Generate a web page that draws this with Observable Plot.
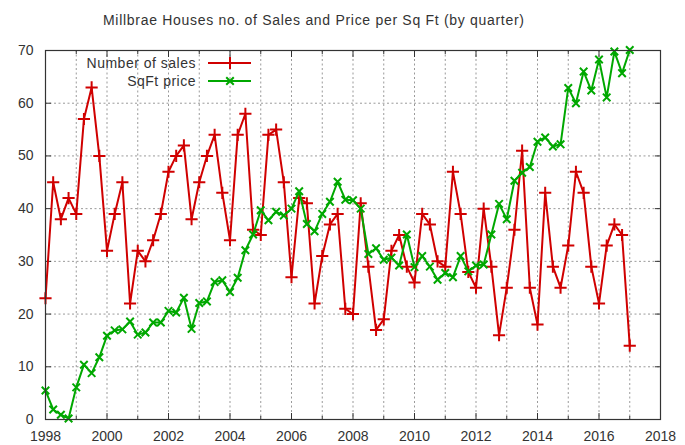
<!DOCTYPE html>
<html>
<head>
<meta charset="utf-8">
<script src="https://cdn.jsdelivr.net/npm/d3@7"></script>
<script src="https://cdn.jsdelivr.net/npm/@observablehq/plot@0.6"></script>
<style>
  html, body { margin: 0; padding: 0; background: #fff; }
</style>
</head>
<body>
<div id="chart"></div>
<script>
// ---- Data (quarterly, starting 1998 Q1) ----
const startYear = 1998;
const salesCount = [
  23, 45, 38, 42,
  39, 57, 63, 50,
  32, 39, 45, 22,
  32, 30, 34, 39,
  47, 50, 52, 38,
  45, 50, 54, 43,
  34, 54, 58, 36,
  35, 54, 55, 45,
  27, 42, 41, 22,
  31, 37, 39, 21,
  20, 41, 29, 17,
  19, 32, 35, 29,
  26, 39, 37, 30,
  29, 47, 39, 28,
  25, 40, 29, 16,
  25, 36, 51, 25,
  18, 43, 29, 25,
  33, 47, 43, 29,
  22, 33, 37, 35,
  14
];
const sqftPrice = [
  5.5, 1.9, 0.9, 0.2,
  6.1, 10.4, 8.8, 11.8,
  15.9, 16.9, 17.1, 18.6,
  16.1, 16.5, 18.4, 18.4,
  20.6, 20.3, 23.1, 17.2,
  22.1, 22.4, 26.1, 26.4,
  24.2, 26.9, 32.1, 35.1,
  39.7, 37.8, 39.4, 38.7,
  40.0, 43.3, 37.1, 35.7,
  39.0, 41.3, 45.1, 41.7,
  41.6, 40.0, 31.4, 32.5,
  30.3, 30.7, 29.2, 35.1,
  28.9, 31.0, 29.0, 26.5,
  27.8, 27.0, 31.0, 28.1,
  29.2, 29.4, 35.1, 40.9,
  38.0, 45.3, 46.8, 47.9,
  52.7, 53.5, 51.8, 52.2,
  62.9, 60.0, 66.0, 62.4,
  68.3, 61.1, 69.8, 65.7,
  70.1
];
const seriesNames = ["Number of sales", "SqFt price"];
const seriesColors = ["#d00000", "#00a800"];
const seriesSymbols = ["plus", "times"];
const xMajorTicks = [1998, 2000, 2002, 2004, 2006, 2008, 2010, 2012, 2014, 2016, 2018];
const xMinorTicks = [1999, 2001, 2003, 2005, 2007, 2009, 2011, 2013, 2015, 2017];
const xGrid = [1999, 2000, 2001, 2002, 2003, 2004, 2005, 2006, 2007, 2008, 2009, 2010, 2011, 2012, 2013, 2014, 2015, 2016, 2017];
const yTicks = [0, 10, 20, 30, 40, 50, 60, 70];
const yGrid = [10, 20, 30, 40, 50, 60];
const titleText = "Millbrae Houses no. of Sales and Price per Sq Ft (by quarter)";

// ---- Build table ----
const salesRows = salesCount.map((v, i) => ({t: startYear + i / 4, v}));
const priceRows = sqftPrice.map((v, i) => ({t: startYear + i / 4, v}));

const font = "Liberation Sans, Arial, sans-serif";
const textColor = "#333";
const gridStyle = {stroke: "#9a9a9a", strokeOpacity: 1, strokeDasharray: "2,2.5", strokeWidth: 1};

const chart = Plot.plot({
  width: 685,
  height: 445,
  marginLeft: 45,
  marginRight: 25,
  marginTop: 50,
  marginBottom: 26,
  style: {fontFamily: font, fontSize: "14px", color: textColor, background: "#fff", overflow: "visible"},
  x: {domain: [1998, 2018], label: null},
  y: {domain: [0, 70], label: null},
  marks: [
    Plot.gridX(xGrid, gridStyle),
    Plot.gridY(yGrid, gridStyle),
    Plot.axisX(xMajorTicks, {anchor: "bottom", tickSize: -6, tickPadding: 18, tickFormat: d => String(d), stroke: "#333", fill: textColor, label: null}),
    Plot.axisX(xMinorTicks, {anchor: "bottom", tickSize: -3, tickFormat: () => "", stroke: "#333", label: null}),
    Plot.axisX(xMajorTicks, {anchor: "top", tickSize: -6, tickFormat: () => "", stroke: "#333", label: null}),
    Plot.axisX(xMinorTicks, {anchor: "top", tickSize: -3, tickFormat: () => "", stroke: "#333", label: null}),
    Plot.axisY(yTicks, {anchor: "left", tickSize: -6, tickPadding: 18, stroke: "#333", fill: textColor, label: null}),
    Plot.axisY(yTicks, {anchor: "right", tickSize: -6, tickFormat: () => "", stroke: "#333", label: null}),
    Plot.line(salesRows, {x: "t", y: "v", stroke: seriesColors[0], strokeWidth: 2}),
    Plot.dot(salesRows, {x: "t", y: "v", symbol: seriesSymbols[0], r: 4, stroke: seriesColors[0], strokeWidth: 2}),
    Plot.line(priceRows, {x: "t", y: "v", stroke: seriesColors[1], strokeWidth: 2}),
    Plot.dot(priceRows, {x: "t", y: "v", symbol: seriesSymbols[1], r: 3.5, stroke: seriesColors[1], strokeWidth: 2}),
    Plot.frame({stroke: "#333", strokeWidth: 1.2})
  ]
});

// ---- Title & legend (layout only) ----
const svg = d3.select(chart);
svg.append("text")
  .attr("x", 103).attr("y", 25)
  .attr("text-anchor", "start")
  .attr("font-family", font).attr("font-size", 14)
  .attr("letter-spacing", "0.7px")
  .attr("fill", textColor)
  .text(titleText);

const legend = svg.append("g").attr("font-family", font).attr("font-size", 14).attr("fill", textColor);
seriesNames.forEach((name, i) => {
  const y = 63 + i * 18;
  legend.append("text")
    .attr("x", 196).attr("y", y).attr("dy", "0.35em")
    .attr("text-anchor", "end").attr("letter-spacing", "0.5px")
    .text(name);
  legend.append("line")
    .attr("x1", 208).attr("x2", 251).attr("y1", y).attr("y2", y)
    .attr("stroke", seriesColors[i]).attr("stroke-width", 2);
  const sym = seriesSymbols[i] === "plus" ? d3.symbolPlus : d3.symbolTimes;
  const r = i === 0 ? 4 : 3.5;
  legend.append("path")
    .attr("transform", `translate(230,${y})`)
    .attr("d", d3.symbol(sym, Math.PI * r * r)())
    .attr("fill", "none").attr("stroke", seriesColors[i]).attr("stroke-width", 2);
});

document.getElementById("chart").appendChild(chart);
</script>
</body>
</html>
